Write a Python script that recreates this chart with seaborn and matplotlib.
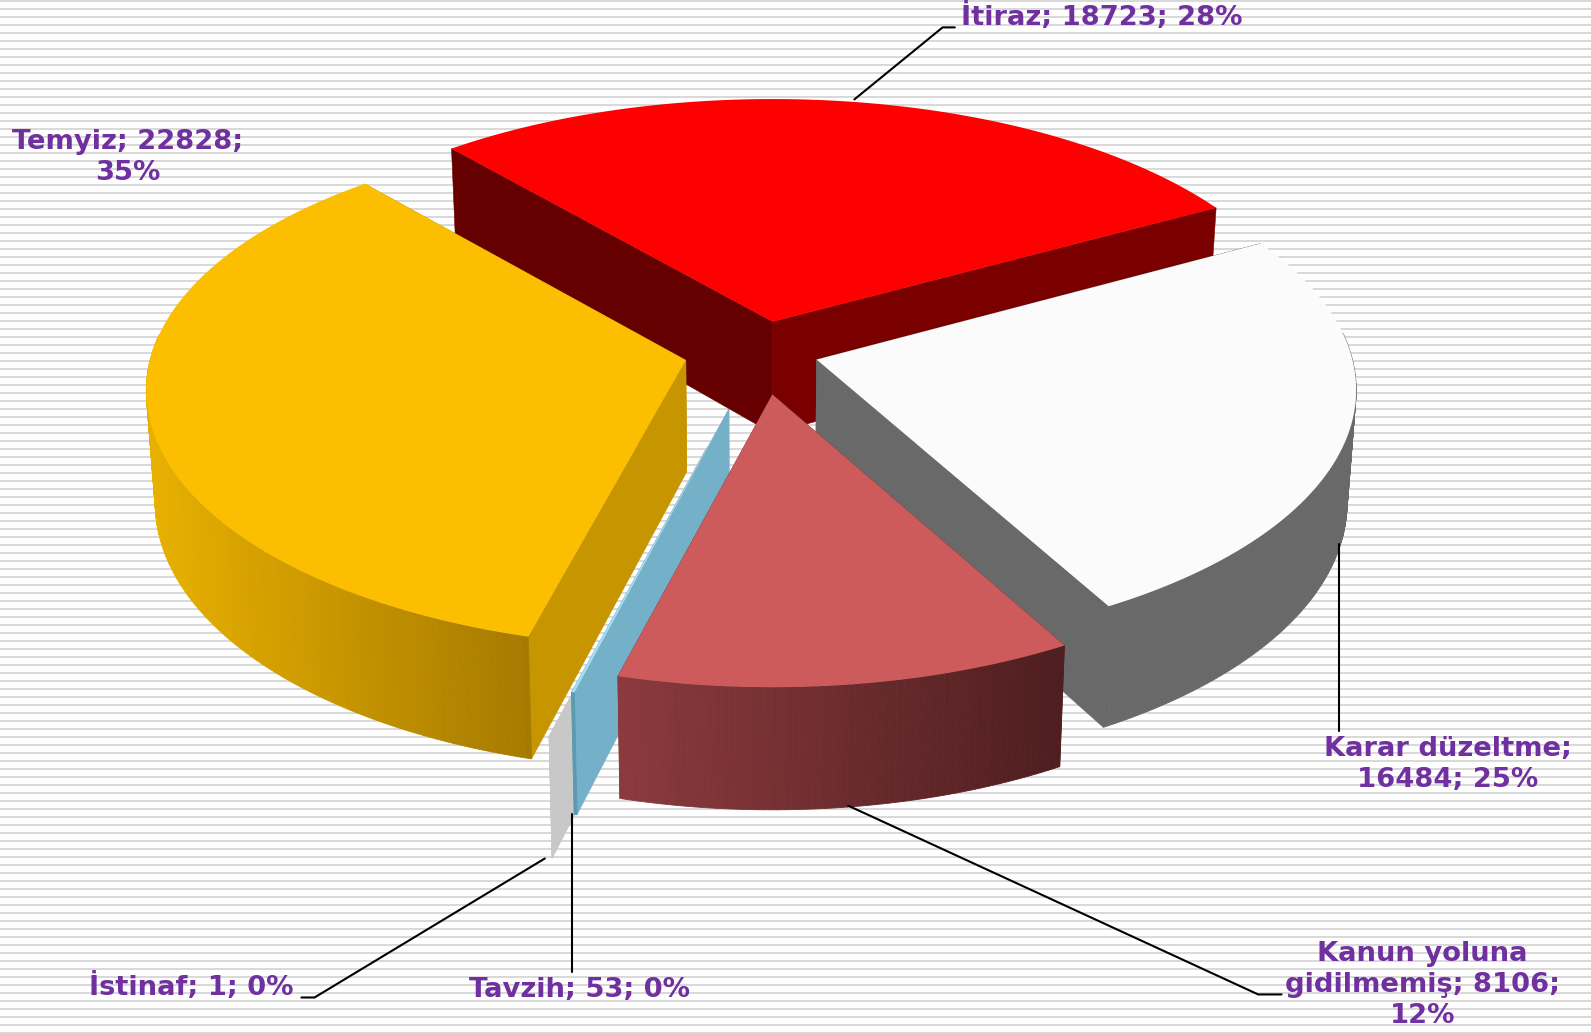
import numpy as np
import matplotlib
matplotlib.use("Agg")
import matplotlib.pyplot as plt
import seaborn as sns

# slices, clockwise from the start angle
labels = ["İtiraz", "Karar düzeltme", "Kanun yoluna gidilmemiş", "Tavzih", "İstinaf", "Temyiz"]
values = [18723, 16484, 8106, 53, 1, 22828]
percents = [28, 25, 12, 0, 0, 35]
label_texts = [
    "İtiraz; 18723; 28%",
    "Karar düzeltme;\n16484; 25%",
    "Kanun yoluna\ngidilmemiş; 8106;\n12%",
    "Tavzih; 53; 0%",
    "İstinaf; 1; 0%",
    "Temyiz; 22828;\n35%",
]

# styling per slice: top face, wall at start angle, wall at end angle, rim colours
top_colors = ["#FF0000", "#FBFBFB", "#CD5B5B", "#A5DDF3", "#C8C8C8", "#FBBE00"]
start_walls = ["#660000", "#696969", "#8B3A3D", "#74B1C8", "#C8C8C8", "#C69500"]
end_walls = ["#7A0000", "#696969", "#8B3A3D", "#74B1C8", "#C8C8C8", "#C69500"]
rim_left = ["#7A0000", "#696969", "#8B3A3D", "#5C9AB2", "#C8C8C8", "#E8B000"]
rim_right = ["#7A0000", "#696969", "#4E1E20", "#5C9AB2", "#C8C8C8", "#A67A00"]
explode = [0.122, 0.108, 0.169, 0.232, 0.39, 0.144]
draw_order = [0, 1, 4, 3, 5, 2]

# label centres and leader lines
label_pos = [(1086, 17), (1427, 753), (1402, 971), (571, 976), (188, 973), (126, 155)]
leaders = [
    [(842, 98), (929, 27), (941, 27)],
    [(1320, 536), (1320, 720)],
    [(836, 794), (1240, 980), (1263, 980)],
    [(564, 802), (564, 958)],
    [(537, 846), (310, 983), (297, 983)],
]

start_angle = 130.75
cx, cy = 750, 347
A, B, K = 528, 250, 0.118
near_scale = 0.0005
depth0, depth_k = 110, 0.09
nadir_x, shrink = 740, 0.015

sns.set_theme(style="white")
plt.rcParams["font.family"] = ["DejaVu Sans"]

fig = plt.figure(figsize=(15.91, 10.33), dpi=100, facecolor="white")
ax = fig.add_axes([0, 0, 1, 1])
ax.set_xlim(0, 1568)
ax.set_ylim(1018, 0)
ax.axis("off")

# striped background
step = 1018 / 1033
ax.hlines((1 + 8 * np.arange(130)) * step, 0, 1568, color="#D9D9D9", lw=1.44, zorder=0, snap=True)


def top_point(ang, apex):
    u, v = np.cos(ang), np.sin(ang)
    w = 1 + K * v
    scale = 1 + near_scale * (apex[1] - 355)
    return apex[0] + A * u / w, apex[1] - B * scale * v / w


def bottom_point(ang, apex):
    v = np.sin(ang)
    x, y = top_point(ang, apex)
    return x + (nadir_x - x) * shrink, y + depth0 / (1 + depth_k * v)


def bottom_apex(apex):
    return apex[0] + (nadir_x - apex[0]) * shrink, apex[1] + depth0


sweeps = np.array(values) / sum(values) * 360
starts = start_angle - np.concatenate([[0], np.cumsum(sweeps)[:-1]])
z = 1
for i in draw_order:
    a0 = np.radians(starts[i])
    a1 = np.radians(starts[i] - sweeps[i])
    mid = (a0 + a1) / 2
    apex = (cx + explode[i] * A * np.cos(mid), cy - explode[i] * B * np.sin(mid))
    low = bottom_apex(apex)

    for ang, col in [(a0, start_walls[i]), (a1, end_walls[i])]:
        ax.fill(*zip(apex, top_point(ang, apex), bottom_point(ang, apex), low),
                color=col, lw=0.4, zorder=z)
    z += 1

    # outer rim, shaded left to right; the back part is hidden by the top face
    n = max(int(sweeps[i] * 1.5), 1)
    angs = np.linspace(a0, a1, n + 1)
    pal = sns.blend_palette([rim_left[i], rim_right[i]], 64)
    xs = [top_point(t, apex)[0] for t in angs]
    lo, hi = min(xs), max(xs)
    for t0, t1, x0 in zip(angs[:-1], angs[1:], xs[:-1]):
        if np.sin(t0) > 0.1 and np.sin(t1) > 0.1:
            continue
        c = pal[int((x0 - lo) / max(hi - lo, 1) * 63)]
        ax.fill(*zip(top_point(t0, apex), top_point(t1, apex),
                     bottom_point(t1, apex), bottom_point(t0, apex)),
                color=c, lw=0.6, zorder=z)
    z += 1

    # top face
    arc = [top_point(t, apex) for t in np.linspace(a0, a1, 200)]
    ax.fill(*zip(apex, *arc), color=top_colors[i], lw=0, zorder=z)
    z += 1

for pts in leaders:
    ax.plot(*zip(*pts), color="black", lw=1.5, zorder=z, solid_joinstyle="miter")

for (x, y), txt in zip(label_pos, label_texts):
    ax.text(x, y, txt, ha="center", va="center", color="#7030A0", fontsize=19.7,
            fontweight="bold", linespacing=1.25, zorder=z + 1)

fig.savefig("out.png", dpi=100)
